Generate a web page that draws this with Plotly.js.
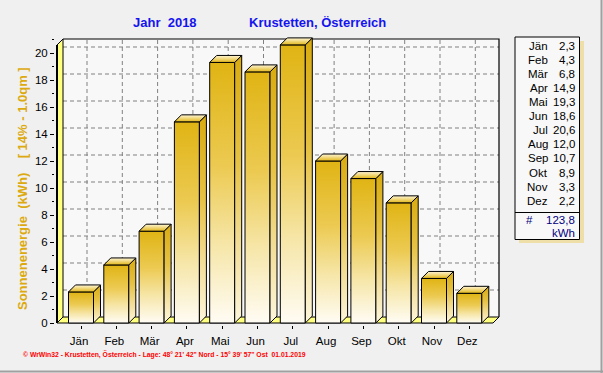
<!DOCTYPE html>
<html>
<head>
<meta charset="utf-8">
<script src="https://cdn.plot.ly/plotly-3.0.1.min.js"></script>
<style>html,body{margin:0;padding:0;background:#f0f0f0;}#chart{width:603px;height:373px;}</style>
</head>
<body>
<div id="chart"></div>
<script>
// ---- data ----
const months = ['Jän','Feb','Mär','Apr','Mai','Jun','Jul','Aug','Sep','Okt','Nov','Dez'];
const energy = [2.3, 4.3, 6.8, 14.9, 19.3, 18.6, 20.6, 12.0, 10.7, 8.9, 3.3, 2.2];
const totalLabel = '123,8';
const unitLabel = 'kWh';
const yTitle = 'Sonnenenergie\u00a0\u00a0(kWh)\u00a0\u00a0\u00a0\u00a0[\u00a014%\u00a0-\u00a01.0qm\u00a0]';
const titleLeft = 'Jahr\u00a0\u00a02018';
const titleRight = 'Krustetten, Österreich';
const footer = '© WrWin32 - Krustetten, Österreich - Lage: 48° 21\' 42" Nord - 15° 39\' 57" Ost\u00a0\u00a001.01.2019';

// ---- geometry (pixels -> data) ----
const L = 55, R = 501, T = 37, B = 325;
const PX0 = 81, PXS = 35.3, PY0 = 323, PYS = 13.5;
const dx = px => (px - PX0) / PXS;
const dy = py => (PY0 - py) / PYS;
const PX = px => (px - L) / (R - L);
const PY = py => 1 - (py - T) / (B - T);

const halfW = 12.5 / PXS, depX = 7 / PXS, depY = 7 / PYS;
const wallDX = 6 / PXS, wallDY = 6 / PYS;

const frontScale = [[0,'#fffcf4'],[0.3,'#f6e6a8'],[0.6,'#ecca52'],[1,'#e0b414']];
const sideScale = [[0,'#fdf6dc'],[0.3,'#f2dd96'],[0.6,'#e6c244'],[1,'#d9ab10']];
const topScale = [[0,'#e2b616'],[1,'#fff6d8']];

const traces = [];
function face(xs, ys, scale) {
  traces.push({
    type: 'scatter', mode: 'lines', x: xs, y: ys, fill: 'toself',
    fillgradient: {type: 'vertical', colorscale: scale},
    line: {color: '#000', width: 1}, hoverinfo: 'skip', showlegend: false
  });
}
energy.forEach((v, i) => {
  const a = i - halfW, b = i + halfW;
  face([a, b, b, a, a], [0, 0, v, v, 0], frontScale);
  face([b, b + depX, b + depX, b, b], [0, depY, v + depY, v, 0], sideScale);
  face([a, a + depX, b + depX, b, a], [v, v + depY, v + depY, v, v], topScale);
});

const shapes = [];
const dash = {color: '#808080', width: 1, dash: '4px,3px'};
// back wall
shapes.push({type:'rect', xref:'x', yref:'y', layer:'below', x0: dx(63), x1: dx(499), y0: dy(317), y1: dy(39), fillcolor:'#f8f8f8', line:{width:0}});
// horizontal grid
for (let g = 2; g <= 20; g += 2) {
  shapes.push({type:'line', xref:'x', yref:'y', layer:'below', x0: dx(63), x1: dx(499), y0: g + wallDY, y1: g + wallDY, line: dash});
}
// vertical grid
months.forEach((m, i) => {
  shapes.push({type:'line', xref:'x', yref:'y', layer:'below', x0: i + wallDX, x1: i + wallDX, y0: dy(317), y1: dy(39), line: dash});
});
// back wall border
shapes.push({type:'path', xref:'x', yref:'y', layer:'below', path:`M${dx(63)},${dy(39)} L${dx(499)},${dy(39)} L${dx(499)},${dy(317)}`, line:{color:'#000', width:1.2}});
// left wall
shapes.push({type:'path', xref:'x', yref:'y', layer:'below', path:`M${dx(57)},${dy(45)} L${dx(63)},${dy(39)} L${dx(63)},${dy(317)} L${dx(57)},${dy(323)} Z`, fillcolor:'#ffff80', line:{color:'#000', width:1}});
shapes.push({type:'line', xref:'x', yref:'y', layer:'below', x0: dx(57), x1: dx(57), y0: dy(45), y1: dy(323), line:{color:'#000', width:2}});
// floor
shapes.push({type:'path', xref:'x', yref:'y', layer:'below', path:`M${dx(57)},${dy(323)} L${dx(63)},${dy(317)} L${dx(499)},${dy(317)} L${dx(493)},${dy(323)} Z`, fillcolor:'#ffff80', line:{color:'#000', width:1}});

// legend box
shapes.push({type:'rect', xref:'paper', yref:'paper', x0: PX(519), x1: PX(584), y0: PY(243), y1: PY(41), fillcolor:'rgba(236,208,110,0.55)', line:{width:0}});
shapes.push({type:'rect', xref:'paper', yref:'paper', x0: PX(515), x1: PX(579.5), y0: PY(239.5), y1: PY(37), fillcolor:'#f8f8f8', line:{color:'#000', width:1}});
shapes.push({type:'line', xref:'paper', yref:'paper', x0: PX(515), x1: PX(579.5), y0: PY(212.5), y1: PY(212.5), line:{color:'#000', width:1}});
// image border
shapes.push({type:'line', xref:'paper', yref:'paper', x0: PX(601.5), x1: PX(601.5), y0: PY(0), y1: PY(373), line:{color:'#a0a0a0', width:2}});
shapes.push({type:'line', xref:'paper', yref:'paper', x0: PX(0), x1: PX(603), y0: PY(371.5), y1: PY(371.5), line:{color:'#a0a0a0', width:2}});

const FONT = 'Liberation Sans, Arial, sans-serif';
const ann = [];
const addText = (text, px, py, opts) => ann.push(Object.assign({
  text, xref:'paper', yref:'paper', x: PX(px), y: PY(py), showarrow:false,
  xanchor:'center', yanchor:'middle', font:{family:FONT, size:11.5, color:'#000'}
}, opts));

months.forEach((m, i) => {
  const yy = 46 + 14.06 * i;
  addText(m, 549.5, yy, {xanchor:'right'});
  addText(energy[i].toFixed(1).replace('.', ','), 576.5, yy, {xanchor:'right'});
});
addText('#', 523.5, 220, {xanchor:'left', font:{family:FONT, size:11.5, color:'#000080'}});
addText(totalLabel, 576.5, 220, {xanchor:'right', font:{family:FONT, size:11.5, color:'#000080'}});
addText(unitLabel, 576.5, 232.5, {xanchor:'right', font:{family:FONT, size:11.5, color:'#000080'}});

addText('<b>' + titleLeft + '</b>', 165, 23, {font:{family:FONT, size:13, color:'#1414f0'}});
addText('<b>' + titleRight + '</b>', 317.5, 23, {font:{family:FONT, size:13, color:'#1414f0'}});
addText('<b>' + yTitle + '</b>', 22, 189, {textangle:-90, font:{family:FONT, size:13, color:'#dcaa10'}});
addText('<b>' + footer + '</b>', 21, 354, {xanchor:'left', font:{family:FONT, size:6.8, color:'#ff0000'}});

const layout = {
  width: 603, height: 373, autosize: false,
  margin: {l: L, r: 603 - R, t: T, b: 373 - B, pad: 0},
  paper_bgcolor: '#f0f0f0', plot_bgcolor: 'rgba(0,0,0,0)',
  showlegend: false,
  xaxis: {
    range: [dx(L), dx(R)], showgrid:false, zeroline:false, showline:false,
    tickmode:'array', tickvals: months.map((m, i) => i), ticktext: months,
    ticks:'outside', ticklen:3, tickcolor:'#000', ticklabelshift:-2, ticklabelstandoff:2,
    tickfont:{family:FONT, size:11.5, color:'#000'}, fixedrange:true
  },
  yaxis: {
    range: [dy(B), dy(T)], showgrid:false, zeroline:false, showline:false,
    tick0:0, dtick:2, ticks:'outside', ticklen:4, tickcolor:'#000',
    minor:{ticks:'outside', ticklen:2, dtick:1, tick0:0, tickcolor:'#000', showgrid:false},
    tickfont:{family:FONT, size:11.5, color:'#000'}, fixedrange:true
  },
  shapes, annotations: ann
};
Plotly.newPlot('chart', traces, layout, {displayModeBar:false, staticPlot:true});
</script>
</body>
</html>
